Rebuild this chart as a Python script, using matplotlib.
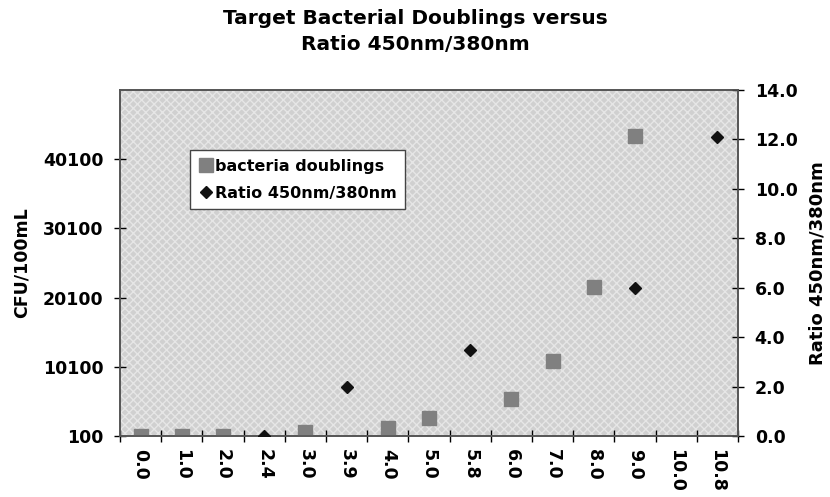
"""
Target Bacterial Doublings versus Ratio 450nm/380nm
(eje x categórico, dos ejes y)
"""

import matplotlib

matplotlib.use("Agg")
import matplotlib.pyplot as plt
import numpy as np

plt.rcParams["font.family"] = ["DejaVu Sans"]
plt.rcParams["font.weight"] = "bold"

# categorías del eje x (tal cual aparecen en el gráfico)
CATEGORIAS = ["0.0", "1.0", "2.0", "2.4", "3.0", "3.9", "4.0", "5.0",
              "5.8", "6.0", "7.0", "8.0", "9.0", "10.0", "10.8"]

# serie 1: bacteria doublings (CFU/100mL)
BACT_X = ["0.0", "1.0", "2.0", "3.0", "4.0", "5.0", "6.0", "7.0", "8.0", "9.0"]
BACT_Y = [100, 100, 100, 680, 1300, 2650, 5400, 10900, 21700, 43400]

# serie 2: ratio 450nm/380nm
RATIO_X = ["2.4", "3.9", "5.8", "9.0", "10.8"]
RATIO_Y = [0.0, 2.0, 3.5, 6.0, 12.1]

TICKS_IZQ = [100, 10100, 20100, 30100, 40100]
TICKS_DER = [0.0, 2.0, 4.0, 6.0, 8.0, 10.0, 12.0, 14.0]

COLOR_BACT = "#808080"
COLOR_RATIO = "#111111"


def main():
    fig = plt.figure(figsize=(8.3, 4.97), dpi=100)
    ax = fig.add_axes([0.1446, 0.1227, 0.7446, 0.6963])
    ax2 = ax.twinx()

    n = len(CATEGORIAS)
    pos_bact = [CATEGORIAS.index(c) for c in BACT_X]
    pos_ratio = [CATEGORIAS.index(c) for c in RATIO_X]

    # fondo gris punteado
    ax.set_facecolor("#d0d0d0")
    ax.patch.set_hatch("xxxx")
    ax.patch.set_edgecolor("#e6e6e6")
    ax.patch.set_linewidth(0)

    h1, = ax.plot(pos_bact, BACT_Y, linestyle="none", marker="s", markersize=10,
                  color=COLOR_BACT, label="bacteria doublings", zorder=3)
    h2, = ax2.plot(pos_ratio, RATIO_Y, linestyle="none", marker="D", markersize=6.5,
                   color=COLOR_RATIO, label="Ratio 450nm/380nm", zorder=3)

    ax.set_xlim(-0.5, n - 0.5)
    ax.set_ylim(100, 50100)
    ax2.set_ylim(0, 14)

    # ticks del eje x: marcas entre categorías, etiquetas en el centro
    ax.set_xticks(np.arange(n + 1) - 0.5)
    ax.set_xticklabels([])
    ax.set_xticks(np.arange(n), minor=True)
    ax.set_xticklabels(CATEGORIAS, minor=True, rotation=-90, fontsize=12.5)
    ax.tick_params(axis="x", which="major", direction="inout", length=8, width=1)
    ax.tick_params(axis="x", which="minor", length=0, pad=9)

    ax.set_yticks(TICKS_IZQ)
    ax.set_yticklabels([str(t) for t in TICKS_IZQ], fontsize=12.5)
    ax.tick_params(axis="y", direction="inout", length=8, width=1, pad=8)

    ax2.set_yticks(TICKS_DER)
    ax2.set_yticklabels([f"{t:.1f}" for t in TICKS_DER], fontsize=12.5)
    ax2.tick_params(axis="y", direction="inout", length=8, width=1, pad=8)

    for a in (ax, ax2):
        for lado in a.spines.values():
            lado.set_color("#555555")
            lado.set_linewidth(1.2)

    ax.set_ylabel("CFU/100mL", fontsize=12.5, fontweight="bold", labelpad=9)
    ax2.set_ylabel("Ratio 450nm/380nm", fontsize=13, fontweight="bold",
                   rotation=90, labelpad=8)

    fig.suptitle("Target Bacterial Doublings versus\nRatio 450nm/380nm",
                 fontsize=14.5, fontweight="bold", y=0.982, linespacing=1.45)

    leg = ax2.legend(handles=[h1, h2], loc="upper left", bbox_to_anchor=(0.113, 0.827),
                     prop={"size": 11.5, "weight": "bold"}, frameon=True, fancybox=False,
                     handletextpad=0.1, handlelength=0.9, borderpad=0.55,
                     labelspacing=0.75, borderaxespad=0)
    leg.get_frame().set_edgecolor("#444444")
    leg.get_frame().set_facecolor("white")
    leg.get_frame().set_alpha(1)
    leg.set_zorder(5)

    fig.savefig("out.png", dpi=100)
    plt.close(fig)


if __name__ == "__main__":
    main()
